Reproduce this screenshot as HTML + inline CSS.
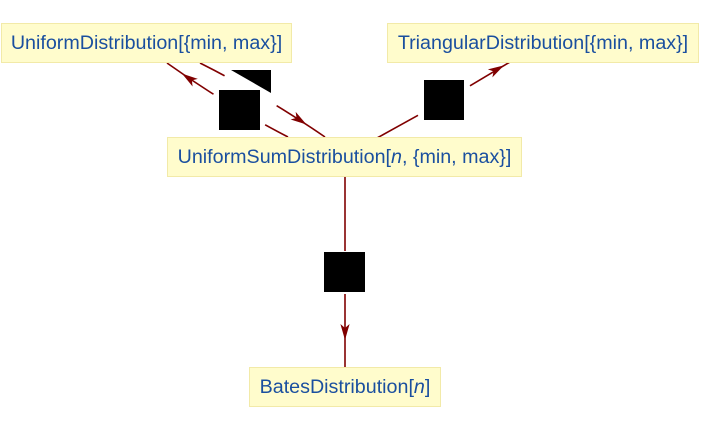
<!DOCTYPE html>
<html>
<head>
<meta charset="utf-8">
<style>
  html,body{margin:0;padding:0;background:#fff;}
  body{width:702px;height:432px;position:relative;overflow:hidden;}
  svg{position:absolute;left:0;top:0;}
  .box{position:absolute;box-sizing:border-box;background:#fffccc;border:1px solid #f2eaa8;
       display:flex;align-items:center;justify-content:center;
       font-family:"Liberation Sans",Arial,sans-serif;font-size:19.7px;color:#1a4f9f;white-space:nowrap;}
  .box i{font-style:italic;}
</style>
</head>
<body>
<svg width="702" height="432" viewBox="0 0 702 432">
  <g fill="none" stroke="#800000" stroke-width="1.6">
    <!-- E1: UniformSum -> Uniform -->
    <path d="M288,137 Q224.9,104.3 167,63"/>
    <!-- E2: Uniform -> UniformSum -->
    <path d="M200,63 Q265,95.7 325,137"/>
    <!-- E3: UniformSum -> Triangular -->
    <line x1="377" y1="138" x2="418" y2="115.3"/>
    <line x1="470" y1="85.8" x2="510" y2="62"/>
    <!-- E4: UniformSum -> Bates -->
    <line x1="345" y1="177" x2="345" y2="251"/>
    <line x1="345" y1="294" x2="345" y2="367"/>
  </g>
  <!-- white gaps -->
  <polygon fill="#fff" points="228,69.8 280,99.8 274,110.2 222,80.2"/>
  <polygon fill="#fff" points="210,100 262,130 268,120 216,90"/>
  <!-- arrowheads -->
  <g fill="#800000">
    <path transform="translate(182,73.6) rotate(214.5)" d="M0,0 L-16,-4.6 L-12,0 L-16,4.6 Z"/>
    <path transform="translate(306.5,124.5) rotate(33.4)" d="M0,0 L-16,-4.6 L-12,0 L-16,4.6 Z"/>
    <path transform="translate(504,65.4) rotate(-29.7)" d="M0,0 L-16,-4.6 L-12,0 L-16,4.6 Z"/>
    <path transform="translate(345,340) rotate(90)" d="M0,0 L-16,-4.6 L-12,0 L-16,4.6 Z"/>
  </g>
  <!-- label placeholders -->
  <g fill="#000">
    <polygon points="231,70 271,70 271,93"/>
    <rect x="219" y="90" width="41" height="40"/>
    <rect x="424" y="80" width="40" height="40"/>
    <rect x="324" y="252" width="41" height="40"/>
  </g>
</svg>
<div class="box" style="left:1px;top:23px;width:291px;height:40px;">UniformDistribution[{min, max}]</div>
<div class="box" style="left:387px;top:23px;width:312px;height:40px;">TriangularDistribution[{min, max}]</div>
<div class="box" style="left:167px;top:137px;width:355px;height:40px;">UniformSumDistribution[<i>n</i>, {min, max}]</div>
<div class="box" style="left:249px;top:367px;width:192px;height:40px;">BatesDistribution[<i>n</i>]</div>
</body>
</html>
